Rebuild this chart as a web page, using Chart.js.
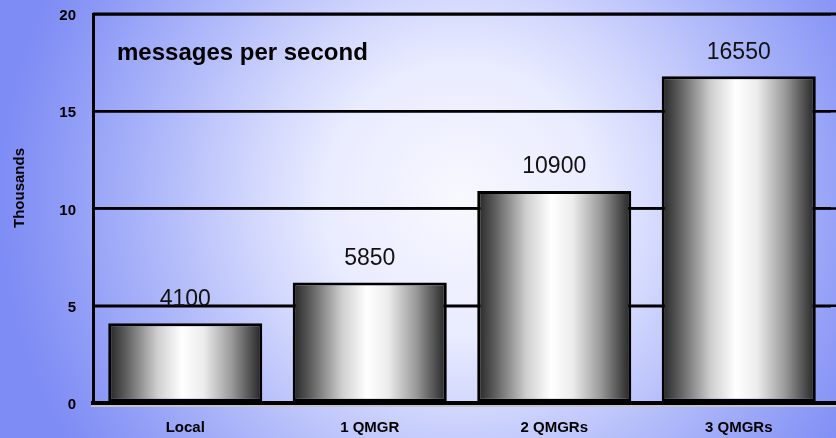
<!DOCTYPE html>
<html>
<head>
<meta charset="utf-8">
<script src="https://cdn.jsdelivr.net/npm/chart.js@4/dist/chart.umd.min.js"></script>
<style>
html,body{margin:0;padding:0;background:#8593f6;}
canvas{display:block;}
</style>
</head>
<body>
<canvas id="c" width="836" height="438"></canvas>
<script>
const categories = ['Local', '1 QMGR', '2 QMGRs', '3 QMGRs'];
// value labels printed above the bars
const valueLabels = [4100, 5850, 10900, 16550];
// bar heights (thousands) as drawn in the picture
const barHeights = [4.1, 6.2, 10.9, 16.8];
const yTicks = [0, 5, 10, 15, 20];
const chartTitle = 'messages per second';
const yAxisTitle = 'Thousands';

const FONT = '"Liberation Sans", Arial, Helvetica, sans-serif';
const BAR_FRACTION = 0.835;

const backgroundPlugin = {
  id: 'bgGradient',
  beforeDraw(chart) {
    const ctx = chart.ctx;
    const W = chart.width, H = chart.height;
    ctx.save();
    const g = ctx.createRadialGradient(460, 200, 0, 460, 200, 460);
    g.addColorStop(0, '#f8f8ff');
    g.addColorStop(0.3, '#e9ebff');
    g.addColorStop(0.45, '#d2d7fd');
    g.addColorStop(0.7, '#a9b3f9');
    g.addColorStop(0.88, '#8d9af6');
    g.addColorStop(1, '#7e8cf5');
    ctx.fillStyle = g;
    ctx.fillRect(0, 0, W, H);
    ctx.restore();
  }
};

const decorPlugin = {
  id: 'decor',
  beforeDatasetsDraw(chart) {
    const ctx = chart.ctx;
    const area = chart.chartArea;
    const ys = chart.scales.y;
    ctx.save();
    ctx.strokeStyle = '#000';
    yTicks.forEach(t => {
      if (t === 0) return;
      const y = ys.getPixelForValue(t);
      ctx.lineWidth = t === 20 ? 3 : 2.5;
      ctx.beginPath();
      ctx.moveTo(area.left, y);
      ctx.lineTo(chart.width, y);
      ctx.stroke();
    });
    ctx.translate(20, 188);
    ctx.rotate(-Math.PI / 2);
    ctx.fillStyle = '#000';
    ctx.font = 'bold 15px ' + FONT;
    ctx.textAlign = 'center';
    ctx.textBaseline = 'middle';
    ctx.fillText(yAxisTitle, 0, 0);
    ctx.restore();
  },
  afterDatasetsDraw(chart) {
    const ctx = chart.ctx;
    const area = chart.chartArea;
    const meta = chart.getDatasetMeta(0);
    const ys = chart.scales.y;
    ctx.save();
    const y0 = ys.getPixelForValue(0);
    ctx.fillStyle = '#000';
    ctx.fillRect(area.left - 2, y0 - 2, chart.width - area.left + 2, 4);
    ctx.fillStyle = '#c4c4c8';
    ctx.fillRect(area.left - 2, y0 + 2, chart.width - area.left + 2, 2);
    ctx.fillStyle = '#111';
    ctx.font = '23px ' + FONT;
    ctx.textAlign = 'center';
    ctx.textBaseline = 'middle';
    meta.data.forEach((bar, i) => {
      ctx.fillText(String(valueLabels[i]), bar.x, bar.y - 24);
    });
    ctx.font = 'bold 24px ' + FONT;
    ctx.textAlign = 'left';
    ctx.fillStyle = '#000';
    ctx.fillText(chartTitle, area.left + 24, ys.getPixelForValue(18.0));
    ctx.restore();
  }
};

function barGradient(context) {
  const chart = context.chart;
  const area = chart.chartArea;
  const xs = chart.scales.x;
  if (!area || !xs || context.dataIndex === undefined) return '#cccccc';
  const cx = xs.getPixelForValue(context.dataIndex);
  const w = (area.right - area.left) / categories.length * BAR_FRACTION;
  const g = chart.ctx.createLinearGradient(cx - w / 2, 0, cx + w / 2, 0);
  g.addColorStop(0, '#242424');
  g.addColorStop(0.12, '#606060');
  g.addColorStop(0.32, '#cfcfcf');
  g.addColorStop(0.48, '#ffffff');
  g.addColorStop(0.62, '#ececec');
  g.addColorStop(0.8, '#9a9a9a');
  g.addColorStop(1, '#222222');
  return g;
}

new Chart(document.getElementById('c'), {
  type: 'bar',
  data: {
    labels: categories,
    datasets: [{
      data: barHeights,
      backgroundColor: barGradient,
      borderColor: '#000',
      borderWidth: 3,
      borderSkipped: false,
      barPercentage: BAR_FRACTION,
      categoryPercentage: 1
    }]
  },
  options: {
    responsive: false,
    animation: false,
    events: [],
    layout: { padding: { top: 14, right: 5, left: 0, bottom: 0 } },
    plugins: {
      legend: { display: false },
      tooltip: { enabled: false },
      title: { display: false }
    },
    scales: {
      x: {
        grid: { display: false, drawTicks: false },
        border: { display: true, color: '#000', width: 4 },
        ticks: {
          color: '#000',
          font: { family: FONT, size: 15, weight: 'bold' },
          padding: 16,
          maxRotation: 0
        },
        afterFit(scale) { scale.height = 35; }
      },
      y: {
        min: 0,
        max: 20,
        afterBuildTicks(scale) { scale.ticks = yTicks.map(v => ({ value: v })); },
        grid: { color: '#000', lineWidth: 2.5, drawTicks: false },
        border: { display: true, color: '#000', width: 3 },
        ticks: {
          color: '#000',
          font: { family: FONT, size: 15, weight: 'bold' },
          padding: 17,
          labelOffset: 2
        },
        title: { display: false },
        afterFit(scale) { scale.width = 93; scale.paddingTop = 0; scale.paddingBottom = 0; }
      }
    }
  },
  plugins: [backgroundPlugin, decorPlugin]
});
</script>
</body>
</html>
